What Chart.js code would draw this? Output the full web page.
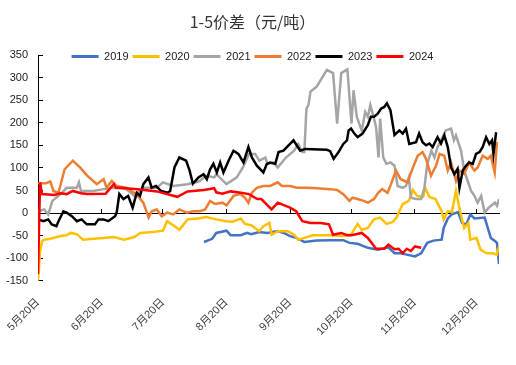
<!DOCTYPE html>
<html>
<head>
<meta charset="utf-8">
<script src="https://cdn.jsdelivr.net/npm/chart.js@4.4.1/dist/chart.umd.min.js"></script>
<style>
  html, body { margin: 0; padding: 0; background: #fff; }
</style>
</head>
<body>
<canvas id="chart-canvas" width="516" height="365"></canvas>
<script>
// x = days counted from 5月20日, y = 1-5 spread in 元/吨
var tickDays = [0, 31, 61, 92, 123, 153, 184, 214];
var tickLabels = ['5月20日', '6月20日', '7月20日', '8月20日', '9月20日', '10月20日', '11月20日', '12月20日'];

var seriesNames = ['2019', '2020', '2021', '2022', '2023', '2024'];
var seriesColors = ['#4472C4', '#FFC000', '#A5A5A5', '#ED7D31', '#000000', '#FF0000'];

var y2019 = [[81,-64],[85,-57],[87,-44],[92,-39],[94,-49],[99,-49],[102,-44],[104,-47],[108,-42],[112,-44],
  [117,-40],[120,-44],[123,-51],[126,-55],[130,-64],[136,-61],[143,-60],[149,-60],[152,-66],[156,-68],
  [161,-77],[166,-81],[171,-76],[174,-89],[177,-89],[180,-92],[184,-96],[187,-89],[190,-66],[193,-61],
  [197,-59],[198,-33],[200,-12],[202,-3],[205,2],[207,-22],[209,-25],[211,-3],[213,-12],[218,-10],
  [221,-55],[223,-62],[224,-66],[225,-113]];

var y2020 = [[0,-150],[1,-85],[2,-62],[3,-59],[6,-57],[11,-51],[14,-49],[16,-44],[19,-47],[22,-59],
  [27,-57],[32,-55],[37,-53],[42,-59],[47,-53],[50,-44],[56,-42],[61,-39],[63,-18],[66,-27],
  [69,-37],[73,-14],[78,-12],[82,-9],[87,-14],[92,-18],[95,-19],[99,-12],[101,-24],[104,-27],
  [108,-40],[110,-29],[113,-22],[114,-48],[117,-40],[122,-40],[125,-48],[127,-59],[130,-55],[134,-49],
  [143,-49],[148,-51],[150,-51],[153,-46],[156,-24],[158,-37],[161,-33],[164,-14],[167,-10],[170,-24],
  [173,-20],[175,-10],[178,20],[181,27],[183,51],[185,38],[188,36],[189,56],[191,36],[194,31],
  [197,4],[198,-14],[200,4],[202,2],[204,49],[206,4],[208,-33],[210,-22],[211,-59],[214,-55],
  [216,-81],[219,-89],[222,-89],[224,-92],[225,-74]];

var y2021 = [[0,4],[3,8],[5,-3],[7,27],[11,42],[14,56],[19,56],[20,68],[21,49],[27,49],
  [32,53],[37,56],[43,53],[47,38],[51,56],[58,56],[61,68],[66,60],[73,64],[79,71],
  [82,83],[86,79],[87,86],[92,64],[97,79],[100,101],[103,131],[106,131],[108,116],[111,123],
  [112,109],[115,112],[117,101],[121,123],[125,138],[127,153],[129,135],[130,135],[131,231],[132,239],
  [133,269],[136,280],[141,317],[144,310],[146,198],[148,310],[151,318],[153,198],[154,272],[155.6,213],
  [158,183],[159.7,224],[161,213],[162.2,239],[163.8,213],[165,190],[166.2,123],[167,209],[168.5,123],[170,109],
  [172,112],[174,105],[175.5,60],[178,56],[179.6,60],[181,79],[182,34],[184.5,31],[187,31],[188.6,56],
  [190,109],[192,138],[193.5,123],[195,146],[197.5,168],[199,183],[201.6,187],[203,161],[204,172],[206.5,138],
  [208,94],[209.7,71],[211.4,49],[213,38],[214.6,23],[216.3,38],[218,1],[220,12],[223,23],[224,16],
  [225,31]];

var y2022 = [[0,66],[4,66],[6,70],[7.5,49],[10,45],[13,97],[17,116],[20.5,101],[24,83],[28.7,64],
  [32,75],[33.5,56],[36,71],[38.4,60],[43,56],[48,42],[51.4,23],[54,-10],[55.5,4],[58,8],
  [60.4,-7],[63,1],[66,-3],[69,8],[72.6,1],[76,4],[79,4],[81.6,8],[84,27],[86.5,20],
  [90,23],[92,17],[95.4,38],[98.7,42],[101,34],[102.7,23],[104.4,45],[106.8,56],[110,60],[113.3,60],
  [117,68],[119,60],[123,60],[126.4,56],[131,56],[136,55],[142.6,53],[146,51],[149,42],[152,27],
  [153.5,34],[156,31],[159,27],[161,23],[164,31],[166,45],[168,53],[170.6,45],[172.3,64],[174.7,94],
  [177,75],[179,71],[180.4,68],[183,101],[185.3,127],[187.7,135],[189.4,120],[191.8,83],[194.3,105],[196,131],
  [198.3,127],[200,94],[201.6,112],[204,71],[205.7,94],[208,87],[210.4,112],[213,94],[214.6,101],[217,127],
  [219.5,120],[221,127],[222.9,90],[224,157]];

var y2023 = [[0,-14],[2.6,-18],[5,-14],[6.7,-25],[9,-29],[10,-18],[12.4,4],[14,1],[16.5,-7],[19,-18],
  [21.3,-14],[23.8,-25],[27.8,-25],[29.5,-14],[32,-14],[34.3,-18],[37.6,-7],[38.4,1],[39.7,42],[41.7,31],
  [44,38],[46.2,12],[48.2,45],[49.8,38],[51.4,64],[53.9,79],[55.5,56],[57.6,60],[60,49],[63.3,45],
  [64.5,49],[66.6,101],[69,123],[72.3,116],[74,94],[75.6,65],[78.3,79],[80.8,86],[82.4,75],[84,97],
  [85.6,109],[87.3,90],[88.9,112],[90.5,90],[93,116],[95.4,138],[97.8,131],[100.3,112],[102.7,146],[104.4,123],
  [106.8,105],[110,90],[111.7,109],[113.3,112],[115.8,109],[117.4,135],[119.8,138],[123,153],[124.7,161],[126.4,149],
  [128,138],[130.4,142],[141,140],[142.6,137],[144.3,120],[146.7,135],[149,153],[150.8,161],[151.6,183],[152.8,187],
  [154.4,176],[156,168],[158.4,176],[160.9,194],[162.5,213],[164,213],[165.8,220],[167.4,231],[169,235],[170.3,243],
  [172,228],[174,173],[176.4,183],[178,176],[179.6,187],[181.2,153],[184.5,157],[186,176],[187.7,157],[189.4,150],
  [191,154],[192.6,146],[195,168],[196.7,154],[198.3,172],[200,146],[201.6,101],[203.2,86],[204.8,98],[205.7,56],
  [207.3,94],[209,105],[210.4,112],[212.2,109],[213.8,131],[215.5,135],[217,146],[218.7,168],[220.3,153],[221.6,161],
  [222.3,131],[223.6,179]];

var y2024 = [[0,-135],[1,68],[2,42],[8,40],[11,44],[14,42],[17,49],[21,44],[24,42],[33,43],
  [37,64],[38,56],[40,56],[50,52],[58,48],[68,36],[73,48],[81,51],[86,55],[87,46],
  [90,43],[94,48],[99,45],[103,42],[107,31],[109,31],[114,8],[117,23],[123,12],[126,4],
  [129,-18],[133,-22],[138,-22],[142,-25],[144,-48],[148,-44],[151,-49],[153,-49],[158,-44],[161,-55],
  [165,-79],[169,-79],[171,-70],[174,-80],[176,-79],[178,-89],[180,-79],[182,-84],[184,-74],[187,-77]];

var seriesData = [y2019, y2020, y2021, y2022, y2023, y2024];

Chart.defaults.font.family = "'Liberation Sans', 'Noto Sans CJK SC', sans-serif";

var datasets = seriesNames.map(function (name, i) {
  return {
    label: name,
    data: seriesData[i].map(function (p) { return {x: p[0], y: p[1]}; }),
    borderColor: seriesColors[i],
    backgroundColor: seriesColors[i],
    borderWidth: 2.5,
    pointRadius: 0,
    tension: 0,
    fill: false,
    // later years are drawn on top
    order: seriesNames.length - i
  };
});

function setMonthTicks(axis) {
  axis.ticks = tickDays.map(function (d) { return {value: d}; });
}

// The legend sits inside the top of the plot, like the Excel original.
// Layout keeps it above the plot, so move it down once layout is done.
var legendInsidePlot = {
  id: 'legendInsidePlot',
  afterLayout: function (chart) {
    chart.legend.top += 17;
    chart.legend.bottom += 17;
  }
};

var canvasElement = document.getElementById('chart-canvas');

new Chart(canvasElement.getContext('2d'), {
  type: 'line',
  data: {datasets: datasets},
  plugins: [legendInsidePlot],
  options: {
    responsive: false,
    animation: false,
    layout: {padding: {left: 6, right: 17, top: 0, bottom: 12}},
    plugins: {
      tooltip: {enabled: false},
      title: {
        display: true,
        text: '1-5价差（元/吨）',
        color: '#333333',
        font: {family: "'Noto Sans CJK SC', sans-serif", size: 16, weight: 'normal', lineHeight: 1},
        padding: {top: 14, bottom: 0}
      },
      legend: {
        position: 'top',
        labels: {
          boxWidth: 27,
          boxHeight: 3,
          padding: 4,
          color: '#222222',
          font: {size: 11},
          sort: function (a, b) { return a.datasetIndex - b.datasetIndex; },
          generateLabels: function (chart) {
            return Chart.defaults.plugins.legend.labels.generateLabels(chart).map(function (item) {
              item.lineWidth = 0;
              return item;
            });
          }
        }
      }
    },
    scales: {
      x: {
        type: 'linear',
        position: 'bottom',
        min: 0,
        max: 225,
        afterBuildTicks: setMonthTicks,
        // first rotated label may hang left of the plot, as in the original
        afterFit: function (scale) { scale.paddingLeft = 0; },
        grid: {display: false, drawTicks: false},
        border: {display: false},
        ticks: {
          autoSkip: false,
          minRotation: 45,
          maxRotation: 45,
          padding: 15,
          color: '#404040',
          font: {size: 11},
          callback: function (value) { return tickLabels[tickDays.indexOf(value)]; }
        }
      },
      // axis line drawn at y = 0 with inside tick marks
      zero: {
        type: 'linear',
        axis: 'x',
        position: {y: 0},
        min: 0,
        max: 225,
        afterBuildTicks: setMonthTicks,
        grid: {drawOnChartArea: false, color: '#000000', tickLength: -5},
        border: {color: '#000000', width: 1},
        ticks: {display: false}
      },
      y: {
        min: -150,
        max: 350,
        afterFit: function (scale) { scale.width = 32; },
        ticks: {stepSize: 50, padding: 15, color: '#222222', font: {size: 11}},
        grid: {drawOnChartArea: false, color: '#000000', tickLength: -5},
        border: {color: '#000000', width: 1}
      }
    }
  }
});
</script>
</body>
</html>
